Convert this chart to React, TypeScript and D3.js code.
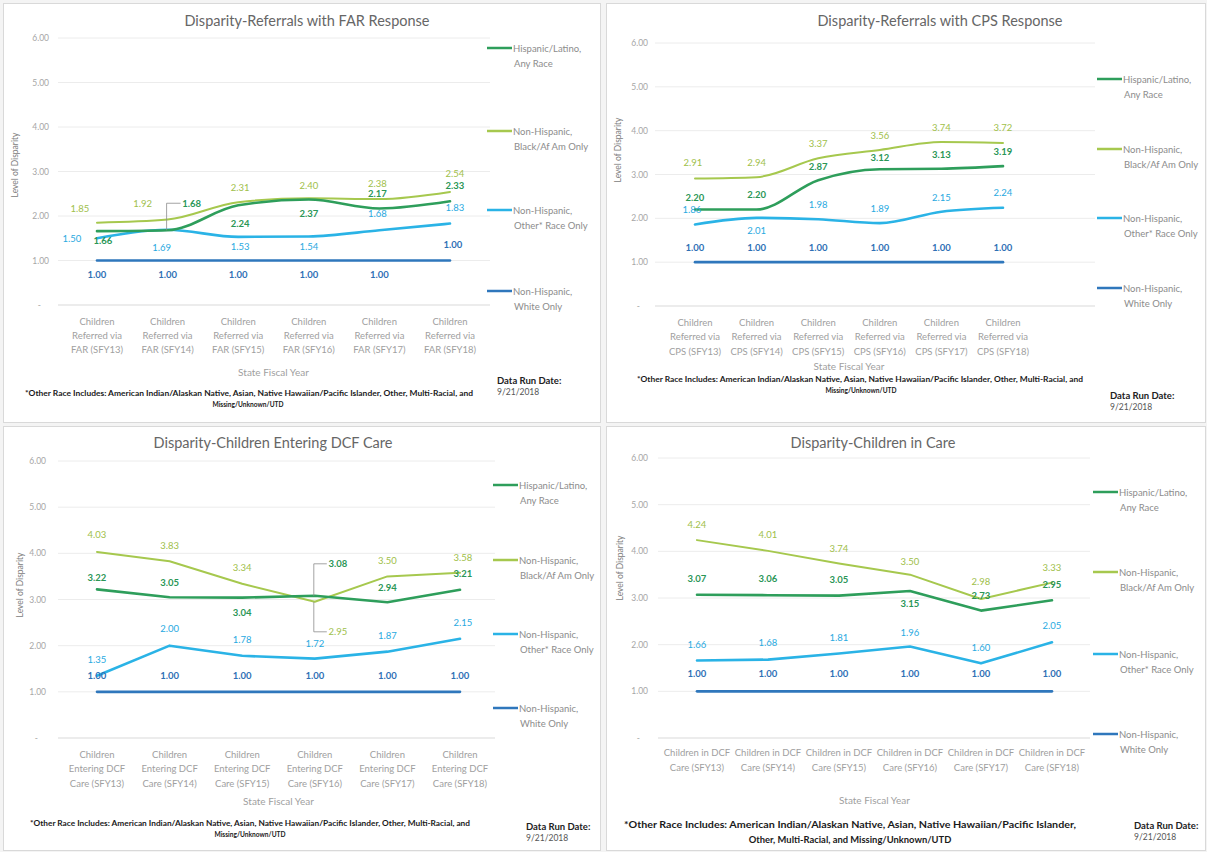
import React from "react";
import * as d3 from "d3";

// ---- data ----
const yTickValues = [0, 1, 2, 3, 4, 5, 6];
const yTickLabels = ["-", "1.00", "2.00", "3.00", "4.00", "5.00", "6.00"];

const seriesNames = [
  ["Hispanic/Latino,", "Any Race"],
  ["Non-Hispanic,", "Black/Af Am Only"],
  ["Non-Hispanic,", "Other* Race Only"],
  ["Non-Hispanic,", "White Only"],
];

const farCategories = [
  ["Children", "Referred via", "FAR (SFY13)"],
  ["Children", "Referred via", "FAR (SFY14)"],
  ["Children", "Referred via", "FAR (SFY15)"],
  ["Children", "Referred via", "FAR (SFY16)"],
  ["Children", "Referred via", "FAR (SFY17)"],
  ["Children", "Referred via", "FAR (SFY18)"],
];
const farHispanic = [1.66, 1.68, 2.24, 2.37, 2.17, 2.33];
const farBlack = [1.85, 1.92, 2.31, 2.4, 2.38, 2.54];
const farOther = [1.5, 1.69, 1.53, 1.54, 1.68, 1.83];
const farWhite = [1.0, 1.0, 1.0, 1.0, 1.0, 1.0];

const cpsCategories = [
  ["Children", "Referred via", "CPS (SFY13)"],
  ["Children", "Referred via", "CPS (SFY14)"],
  ["Children", "Referred via", "CPS (SFY15)"],
  ["Children", "Referred via", "CPS (SFY16)"],
  ["Children", "Referred via", "CPS (SFY17)"],
  ["Children", "Referred via", "CPS (SFY18)"],
];
const cpsHispanic = [2.2, 2.2, 2.87, 3.12, 3.13, 3.19];
const cpsBlack = [2.91, 2.94, 3.37, 3.56, 3.74, 3.72];
const cpsOther = [1.86, 2.01, 1.98, 1.89, 2.15, 2.24];
const cpsWhite = [1.0, 1.0, 1.0, 1.0, 1.0, 1.0];

const enteringCategories = [
  ["Children", "Entering DCF", "Care (SFY13)"],
  ["Children", "Entering DCF", "Care (SFY14)"],
  ["Children", "Entering DCF", "Care (SFY15)"],
  ["Children", "Entering DCF", "Care (SFY16)"],
  ["Children", "Entering DCF", "Care (SFY17)"],
  ["Children", "Entering DCF", "Care (SFY18)"],
];
const enteringHispanic = [3.22, 3.05, 3.04, 3.08, 2.94, 3.21];
const enteringBlack = [4.03, 3.83, 3.34, 2.95, 3.5, 3.58];
const enteringOther = [1.35, 2.0, 1.78, 1.72, 1.87, 2.15];
const enteringWhite = [1.0, 1.0, 1.0, 1.0, 1.0, 1.0];

const inCareCategories = [
  ["Children in DCF", "Care (SFY13)"],
  ["Children in DCF", "Care (SFY14)"],
  ["Children in DCF", "Care (SFY15)"],
  ["Children in DCF", "Care (SFY16)"],
  ["Children in DCF", "Care (SFY17)"],
  ["Children in DCF", "Care (SFY18)"],
];
const inCareHispanic = [3.07, 3.06, 3.05, 3.15, 2.73, 2.95];
const inCareBlack = [4.24, 4.01, 3.74, 3.5, 2.98, 3.33];
const inCareOther = [1.66, 1.68, 1.81, 1.96, 1.6, 2.05];
const inCareWhite = [1.0, 1.0, 1.0, 1.0, 1.0, 1.0];

const footnoteSmall = [
  "*Other Race Includes:  American Indian/Alaskan Native, Asian, Native Hawaiian/Pacific Islander, Other, Multi-Racial, and",
  "Missing/Unknown/UTD",
];
const footnoteLarge = [
  "*Other Race Includes:  American Indian/Alaskan Native, Asian, Native Hawaiian/Pacific Islander,",
  "Other, Multi-Racial, and Missing/Unknown/UTD",
];
const runDate = "9/21/2018";

// ---- styling ----
const FONT = "Lato, 'Open Sans', sans-serif";
const lineColors = ["#2e9e5b", "#a6c84e", "#2ab3e6", "#2f77bc"];
const labelColors = ["#2a9656", "#a0c04a", "#29a9df", "#2f70b5"];
const lineWidths = [2.6, 2, 2.6, 2.6];
const labelWeights = [700, 400, 400, 700];

const above = (n, dy = -15) => d3.range(n).map(() => [0, dy]);

const panels = [
  {
    title: "Disparity-Referrals with FAR Response",
    categories: farCategories,
    series: [farHispanic, farBlack, farOther, farWhite],
    box: [3, 3, 597, 419],
    titleX: 307, titleY: 20,
    yTop: 38, yZero: 305, tickX: 49, axisTitleX: 15, axisTitleY: 165,
    gridL: 58, gridR: 490, firstX: 97, lastX: 450,
    curve: d3.curveMonotoneX,
    catY: 321, catLH: 14, sfyY: 372,
    legendX: 487, legendY: [48, 131, 210, 291],
    foot: footnoteSmall, footX: [25, 473], footY: [393, 404], footSize: 6.6, foot2X: 248,
    dateX: 497, dateY: 380,
    offsets: [
      [[6, 9], [24, -27], [2, 18], [0, 14], [-2, -15], [5, -16]],
      [[-17, -14], [-25, -16], [2, -15], [0, -13], [-2, -16], [5, -18]],
      [[-25, 0], [-6, 18], [2, 10], [0, 10], [-2, -17], [5, -16]],
      [[0, 14], [0, 14], [0, 14], [0, 14], [0, 14], [3, -16]],
    ],
    leaders: [[0, 1]],
  },
  {
    title: "Disparity-Referrals with CPS Response",
    categories: cpsCategories,
    series: [cpsHispanic, cpsBlack, cpsOther, cpsWhite],
    box: [606, 3, 599, 419],
    titleX: 940, titleY: 20,
    yTop: 43, yZero: 306, tickX: 648, axisTitleX: 618, axisTitleY: 150,
    gridL: 655, gridR: 1095, firstX: 695, lastX: 1003,
    curve: d3.curveMonotoneX,
    catY: 322, catLH: 14.5, sfyY: 366,
    legendX: 1097, legendY: [79, 149, 218, 288],
    foot: footnoteSmall, footX: [637, 1083], footY: [379, 390], footSize: 6.6, foot2X: 861,
    dateX: 1110, dateY: 395,
    offsets: [
      [[0, -12], [0, -15], [0, -14], [0, -12], [0, -14], [0, -15]],
      [[-2, -16], [0, -15], [0, -15], [0, -14], [0, -15], [0, -15]],
      [[-3, -15], [0, 13], [0, -15], [0, -15], [0, -14], [0, -15]],
      above(6, -15),
    ],
    leaders: [],
  },
  {
    title: "Disparity-Children Entering DCF Care",
    categories: enteringCategories,
    series: [enteringHispanic, enteringBlack, enteringOther, enteringWhite],
    box: [3, 426, 597, 424],
    titleX: 273, titleY: 442,
    yTop: 461, yZero: 738, tickX: 46, axisTitleX: 20, axisTitleY: 585,
    gridL: 58, gridR: 495, firstX: 97, lastX: 460,
    curve: d3.curveLinear,
    catY: 754, catLH: 14.5, sfyY: 801,
    legendX: 493, legendY: [485, 560, 634, 708],
    foot: footnoteSmall, footX: [30, 470], footY: [823, 834], footSize: 6.6, foot2X: 250,
    dateX: 526, dateY: 826,
    offsets: [
      [[0, -12], [0, -15], [0, 15], [23, -32], [0, -15], [3, -16]],
      [[0, -17], [0, -16], [0, -16], [23, 30], [0, -16], [3, -15]],
      [[0, -16], [0, -17], [0, -16], [0, -15], [0, -16], [3, -16]],
      above(6, -16),
    ],
    leaders: [[0, 3], [1, 3]],
  },
  {
    title: "Disparity-Children in Care",
    categories: inCareCategories,
    series: [inCareHispanic, inCareBlack, inCareOther, inCareWhite],
    box: [606, 426, 599, 424],
    titleX: 873, titleY: 442,
    yTop: 458, yZero: 738, tickX: 648, axisTitleX: 620, axisTitleY: 568,
    gridL: 658, gridR: 1090, firstX: 697, lastX: 1052,
    curve: d3.curveLinear,
    catY: 752, catLH: 15, sfyY: 800,
    legendX: 1093, legendY: [492, 572, 654, 734],
    foot: footnoteLarge, footX: [624, 1076], footY: [824, 839], footSize: 9.4, foot2X: 850,
    dateX: 1134, dateY: 825,
    offsets: [
      [[0, -16], [0, -17], [0, -16], [0, 12], [0, -15], [0, -16]],
      [[0, -16], [0, -16], [0, -15], [0, -13], [0, -17], [0, -15]],
      [[0, -16], [0, -17], [0, -16], [0, -14], [0, -16], [0, -17]],
      above(6, -18),
    ],
    leaders: [],
  },
];

const Panel = ({ p }) => {
  const keys = p.categories.map((c) => c.join(" "));
  const x = d3.scalePoint().domain(keys).range([p.firstX, p.lastX]);
  const y = d3.scaleLinear().domain([0, 6]).range([p.yZero, p.yTop]);
  const [bx, by, bw, bh] = p.box;

  return (
    <g fontFamily={FONT}>
      <rect x={bx + 0.5} y={by + 0.5} width={bw} height={bh} fill="#fff" stroke="#d9d9d9" />
      <text x={p.titleX} y={p.titleY} textAnchor="middle" dominantBaseline="central" fontSize={14.5} fill="#666">
        {p.title}
      </text>

      {/* gridlines + y ticks */}
      {yTickValues.map((v, i) => (
        <g key={v}>
          <line x1={p.gridL} x2={p.gridR} y1={y(v)} y2={y(v)} stroke={v === 0 ? "#d9d9d9" : "#ececec"} />
          <text x={v === 0 ? p.tickX - 8 : p.tickX} y={y(v)} textAnchor="end" dominantBaseline="central" fontSize={8.5} fill="#a6a6a6">
            {yTickLabels[i]}
          </text>
        </g>
      ))}
      <text
        transform={`translate(${p.axisTitleX},${p.axisTitleY}) rotate(-90)`}
        textAnchor="middle"
        dominantBaseline="central"
        fontSize={8.5}
        fill="#808080"
      >
        Level of Disparity
      </text>

      {/* category labels */}
      {p.categories.map((c, i) =>
        c.map((ln, j) => (
          <text key={`${i}-${j}`} x={x(keys[i])} y={p.catY + j * p.catLH} textAnchor="middle" dominantBaseline="central" fontSize={9.5} fill="#a0a0a0">
            {ln}
          </text>
        ))
      )}
      <text x={(p.firstX + p.lastX) / 2} y={p.sfyY} textAnchor="middle" dominantBaseline="central" fontSize={10} fill="#a0a0a0">
        State Fiscal Year
      </text>

      {/* lines, drawn white first so light green sits under dark lines as in Excel */}
      {[3, 2, 1, 0].map((s) => {
        const line = d3
          .line()
          .x((d, i) => x(keys[i]))
          .y((d) => y(d))
          .curve(p.curve);
        return (
          <path key={s} d={line(p.series[s])} fill="none" stroke={lineColors[s]} strokeWidth={lineWidths[s]} strokeLinejoin="round" strokeLinecap="round" />
        );
      })}

      {/* leader lines */}
      {p.leaders.map(([s, i]) => {
        const px = x(keys[i]);
        const py = y(p.series[s][i]);
        const [dx, dy] = p.offsets[s][i];
        const lx = px + dx;
        const ly = py + dy;
        const vx = px - 1;
        return (
          <path key={`l${s}-${i}`} d={`M${vx},${py}V${ly}H${lx - 11}`} fill="none" stroke="#8c8c8c" strokeWidth={0.8} />
        );
      })}

      {/* data labels */}
      {p.series.map((vals, s) =>
        vals.map((v, i) => {
          const [dx, dy] = p.offsets[s][i];
          return (
            <text
              key={`d${s}-${i}`}
              x={x(keys[i]) + dx}
              y={y(v) + dy}
              textAnchor="middle"
              dominantBaseline="central"
              fontSize={9.5}
              fontWeight={labelWeights[s]}
              fill={labelColors[s]}
            >
              {v.toFixed(2)}
            </text>
          );
        })
      )}

      {/* legend */}
      {seriesNames.map((nm, s) => (
        <g key={`lg${s}`}>
          <line x1={p.legendX} x2={p.legendX + 25} y1={p.legendY[s]} y2={p.legendY[s]} stroke={lineColors[s]} strokeWidth={2.5} />
          {nm.map((t, j) => (
            <text key={j} x={p.legendX + 26 + (j === 1 ? 1 : 0)} y={p.legendY[s] + j * 15} dominantBaseline="central" fontSize={9.5} fill="#8c8c8c">
              {t}
            </text>
          ))}
        </g>
      ))}

      {/* footnote */}
      <text
        x={p.footX[0]}
        y={p.footY[0]}
        dominantBaseline="central"
        fontSize={p.footSize}
        fontWeight={700}
        fill="#1a1a1a"
        textLength={p.footX[1] - p.footX[0]}
        lengthAdjust="spacingAndGlyphs"
      >
        {p.foot[0]}
      </text>
      <text x={p.foot2X} y={p.footY[1]} textAnchor="middle" dominantBaseline="central" fontSize={p.footSize} fontWeight={700} fill="#1a1a1a">
        {p.foot[1]}
      </text>

      <text x={p.dateX} y={p.dateY} dominantBaseline="central" fontSize={9.5} fontWeight={700} fill="#222">
        Data Run Date:
      </text>
      <text x={p.dateX} y={p.dateY + 12} dominantBaseline="central" fontSize={8.5} fill="#555">
        {runDate}
      </text>
    </g>
  );
};

export default function App() {
  return (
    <div style={{ position: "absolute", left: 0, top: 0 }}>
      <svg width={1207} height={852} style={{ display: "block", background: "#f4f4f4" }}>
        {panels.map((p, i) => (
          <Panel key={i} p={p} />
        ))}
      </svg>
    </div>
  );
}
